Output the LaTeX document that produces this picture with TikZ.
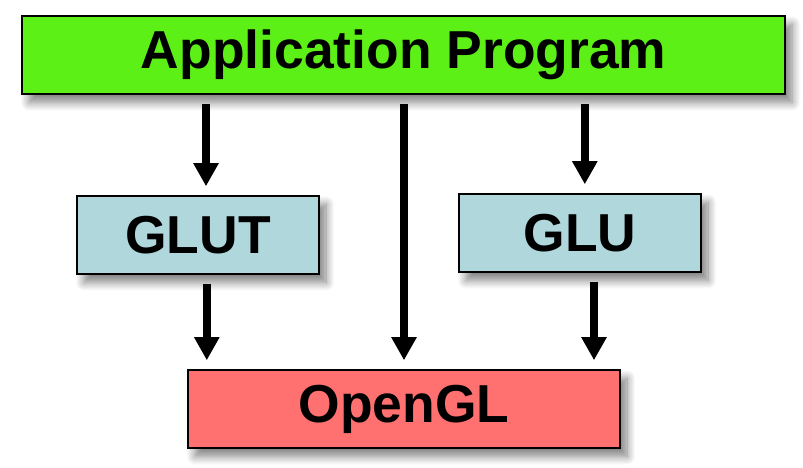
\documentclass[tikz,border=0pt]{standalone}
\usepackage{fontspec}
\setmainfont{Liberation Sans}
\usetikzlibrary{arrows.meta, shadows.blur}

\definecolor{appgreen}{RGB}{92,240,22}
\definecolor{libblue}{RGB}{176,216,220}
\definecolor{glred}{RGB}{255,112,112}

\begin{document}
\begin{tikzpicture}[
    layer/.style={rectangle, draw=black, line width=1.3pt, minimum height=1.95cm,
        inner sep=0pt, font=\fontsize{38}{42}\selectfont\bfseries,
        blur shadow={shadow xshift=5pt, shadow yshift=-6pt, shadow blur radius=6pt,
        shadow blur steps=10, shadow opacity=50}},
    call/.style={line width=0.2cm, -{Triangle[width=0.6cm, length=0.58cm]},
        shorten <=0.22cm, shorten >=0.22cm}
]
\useasboundingbox (0,0) rectangle (20.075,-11.7);

% Layers, top to bottom
\node[layer, fill=appgreen, minimum width=19.075cm] (App) at (10.09, -1.375) {Application Program};
\node[layer, fill=libblue, minimum width=6.05cm] (GLUT) at (4.95, -5.875) {GLUT};
\node[layer, fill=libblue, minimum width=6.05cm] (GLU) at (14.5, -5.825) {GLU};
\node[layer, fill=glred, minimum width=10.8cm] (GL) at (10.1, -10.225) {OpenGL};

% Application calls
\draw[call] ([xshift=0.2cm]GLUT.north |- App.south) -- ([xshift=0.2cm]GLUT.north);
\draw[call] ([xshift=0.12cm]GLU.north |- App.south) -- ([xshift=0.12cm]GLU.north);
\draw[call] (GL.north |- App.south) -- (GL.north);

% Library calls into OpenGL
\draw[call] ([xshift=0.22cm]GLUT.south) -- ([xshift=0.22cm]GLUT.south |- GL.north);
\draw[call] ([xshift=0.35cm]GLU.south) -- ([xshift=0.35cm]GLU.south |- GL.north);

\end{tikzpicture}
\end{document}
